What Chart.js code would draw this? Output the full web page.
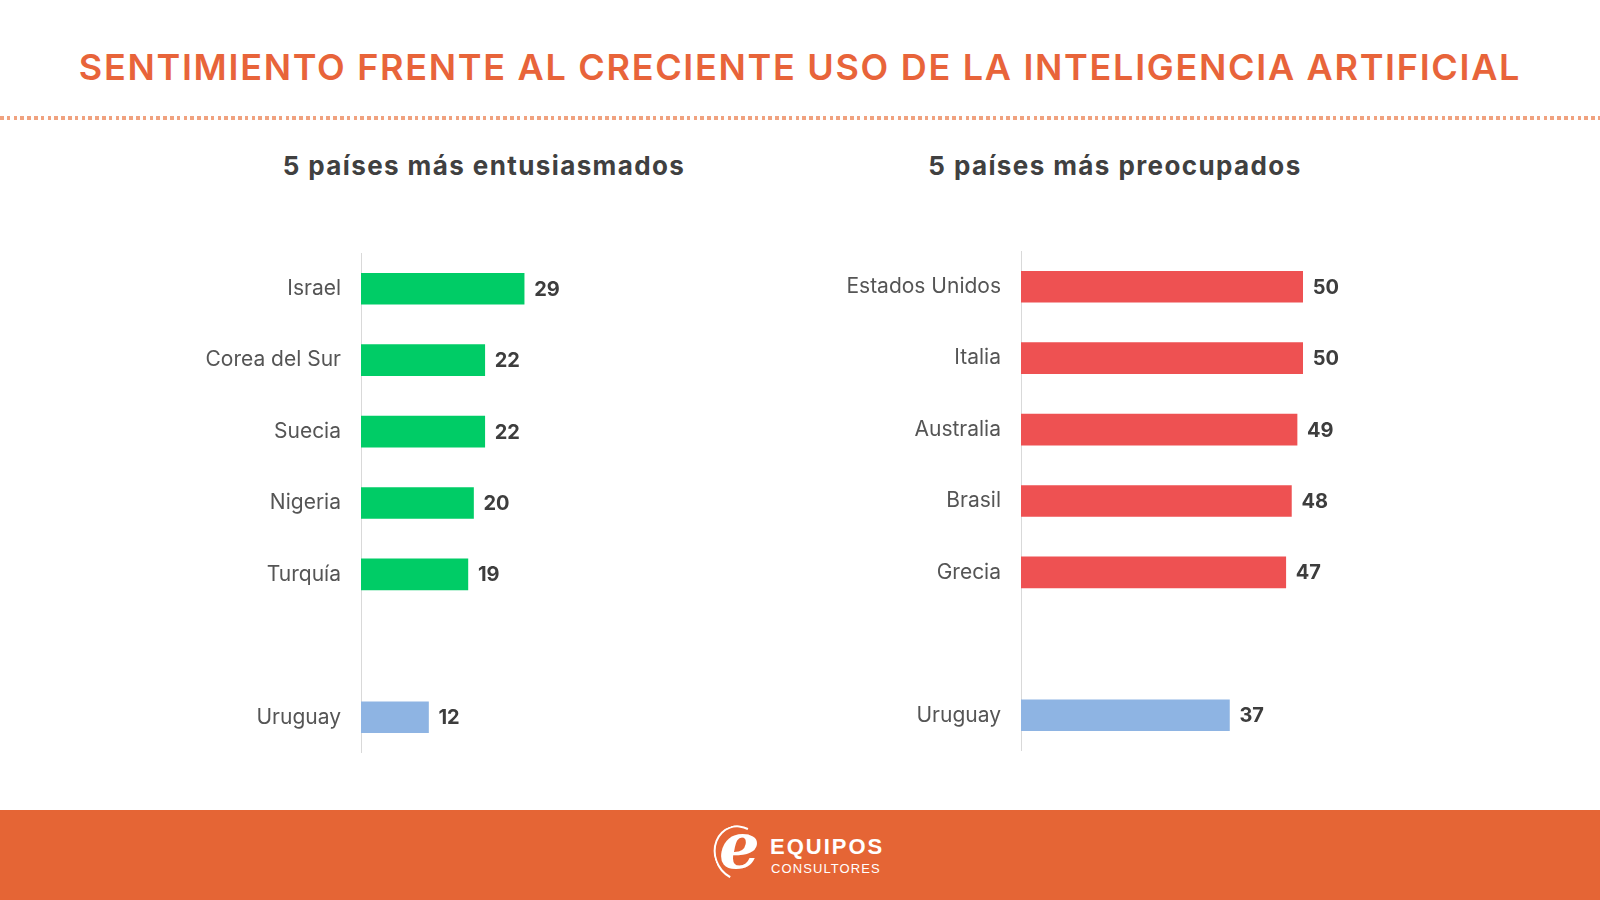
<!DOCTYPE html>
<html><head><meta charset="utf-8">
<script src="https://cdn.jsdelivr.net/npm/chart.js@4.4.0/dist/chart.umd.min.js"></script>
<style>
html,body{margin:0;padding:0;background:#fff;width:1600px;height:900px;overflow:hidden;font-family:Inter, "Open Sans", sans-serif;}
#title{position:absolute;left:0;width:1600px;top:45px;text-align:center;color:#E8643A;font-weight:600;font-size:36px;line-height:44px;letter-spacing:1.7px;white-space:nowrap}
#dots{position:absolute;left:0;top:116px;width:1600px;height:4px;background:repeating-linear-gradient(to right,#F0A27F 0 3.5px,transparent 3.5px 6.8px)}
.sub{position:absolute;top:150px;font-weight:700;font-size:26px;line-height:32px;color:#404040;text-align:center;width:600px;white-space:nowrap;letter-spacing:1.4px}
.wrap{position:absolute}
#footer{position:absolute;left:0;top:810px;width:1600px;height:90px;background:#E56535}
#ring{position:absolute;left:714px;top:825px;width:50px;height:56px;border-radius:50%;border:2.5px solid #fff;border-right-color:transparent;border-bottom-color:transparent;transform:rotate(-20deg);box-sizing:border-box}
#elogo{position:absolute;left:719px;top:808px;font-family:"DejaVu Serif",serif;font-style:italic;font-weight:700;font-size:64px;line-height:76px;color:#fff}
#eq{position:absolute;left:770px;top:835px;font-family:"Liberation Sans",Arial,sans-serif;font-weight:700;font-size:22px;line-height:24px;color:#fff;letter-spacing:2px}
#co{position:absolute;left:771px;top:861px;font-family:"Liberation Sans",Arial,sans-serif;font-size:13px;line-height:16px;color:#fff;letter-spacing:1.1px}
</style>
</head>
<body>
<div id="title">SENTIMIENTO FRENTE AL CRECIENTE USO DE LA INTELIGENCIA ARTIFICIAL</div>
<div id="dots"></div>
<div class="sub" style="left:184px">5 países más entusiasmados</div>
<div class="sub" style="left:815px">5 países más preocupados</div>
<div class="wrap" style="left:150px;top:253px"><canvas id="c1" width="436" height="500"></canvas></div>
<div class="wrap" style="left:800px;top:251px"><canvas id="c2" width="559" height="500"></canvas></div>
<div id="footer"></div>
<div id="ring"></div>
<div id="elogo">e</div>
<div id="eq">EQUIPOS</div>
<div id="co">CONSULTORES</div>
<script>
const leftCountries = ['Israel','Corea del Sur','Suecia','Nigeria','Turquía','','Uruguay'];
const leftValues = [29,22,22,20,19,null,12];
const rightCountries = ['Estados Unidos','Italia','Australia','Brasil','Grecia','','Uruguay'];
const rightValues = [50,50,49,48,47,null,37];
const highlightCountry = 'Uruguay';

const valueLabels = {
  id:'valueLabels',
  afterDatasetsDraw(chart){
    const ctx = chart.ctx;
    const meta = chart.getDatasetMeta(0);
    const ds = chart.data.datasets[0];
    ctx.save();
    ctx.font = '700 20px Inter, sans-serif';
    ctx.fillStyle = '#3d3d3d';
    ctx.textAlign = 'left';
    ctx.textBaseline = 'middle';
    meta.data.forEach((bar,i)=>{
      const v = ds.data[i];
      if (v == null) return;
      ctx.fillText(String(v), bar.x + 10, bar.y + 1);
    });
    ctx.restore();
  }
};

function makeChart(id, labels, values, mainColor, max, yWidth){
  new Chart(document.getElementById(id), {
    type:'bar',
    data:{
      labels: labels,
      datasets:[{
        data: values,
        backgroundColor: labels.map(l => l === highlightCountry ? '#8EB4E3' : mainColor),
        barThickness: 31
      }]
    },
    options:{
      indexAxis:'y',
      responsive:false,
      animation:false,
      layout:{padding:0},
      plugins:{legend:{display:false}, tooltip:{enabled:false}},
      scales:{
        x:{display:false, min:0, max:max},
        y:{
          afterFit(scale){ scale.width = yWidth; scale.paddingTop = 0; scale.paddingBottom = 0; },
          grid:{display:true, drawOnChartArea:false, drawTicks:true, tickLength:20, color:'rgba(0,0,0,0)'},
          border:{display:true, color:'#d9d9d9', width:1},
          ticks:{padding:0, color:'#555555', font:{family:'Inter, sans-serif', size:21, weight:'400'}}
        }
      }
    },
    plugins:[valueLabels]
  });
}
makeChart('c1', leftCountries, leftValues, '#00CC66', 40, 211);
makeChart('c2', rightCountries, rightValues, '#EE5152', 60, 221);
</script>
</body></html>
